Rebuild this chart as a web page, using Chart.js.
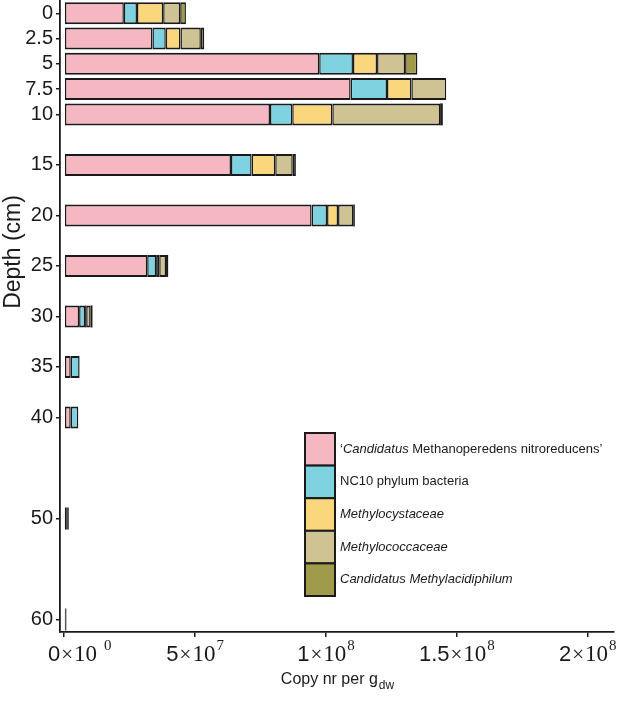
<!DOCTYPE html>
<html>
<head>
<meta charset="utf-8">
<script src="https://cdn.jsdelivr.net/npm/chart.js@4.4.1/dist/chart.umd.min.js"></script>
<style>
  html, body { margin:0; padding:0; background:#fff; }
  #wrap { width:630px; height:701px; }
</style>
</head>
<body>
<div id="wrap"><canvas id="chart" width="630" height="701"></canvas></div>
<script>
// sample depth (cm)
const depths = [0, 2.5, 5, 7.5, 10, 15, 20, 25, 30, 35, 40, 50, 60];

// copy nr per g dry weight, in millions
const methanoperedens = [22.8, 33.7, 97.4, 109.4, 78.6, 63.7, 94.5, 31.7, 5.7, 2.5, 2.5, 0.9, 0.4];
const nc10            = [5.0, 5.1, 12.9, 13.9, 8.5, 7.9, 5.9, 3.4, 2.3, 3.4, 2.9, 0.4, 0.2];
const methylocyst     = [10.0, 5.6, 9.2, 9.3, 15.3, 9.0, 4.2, 1.2, 0.4, 0, 0, 0.2, 0.1];
const methylococc     = [6.5, 7.8, 10.7, 13.3, 41.2, 6.7, 5.8, 2.6, 1.7, 0, 0, 0.2, 0.1];
const methylacidi     = [2.2, 1.3, 4.7, 0, 1.0, 1.2, 0.6, 0.8, 0.7, 0, 0, 0.1, 0];

// legend text, split into [text, italic] pieces
const legendParts = [
  [['\u2018', false], ['Candidatus', true], [' Methanoperedens nitroreducens\u2019', false]],
  [['NC10 phylum bacteria', false]],
  [['Methylocystaceae', true]],
  [['Methylococcaceae', true]],
  [['Candidatus Methylacidiphilum', true]]
];
const seriesColors = ['#f5b7c1', '#7fd3e0', '#fad77c', '#cfc393', '#a09b4b'];

const depthTicks = [0, 2.5, 5, 7.5, 10, 15, 20, 25, 30, 35, 40, 50, 60];
const xTickValues = [0, 5e7, 1e8, 1.5e8, 2e8];
const xTickMantissa = ['0', '5', '1', '1.5', '2'];
const xTickExponent = ['0', '7', '8', '8', '8'];

const INK = '#1a1a1a';
const SANS = '"Liberation Sans", Arial, sans-serif';
const SERIF = '"Liberation Serif", "Times New Roman", serif';

const allSeries = [methanoperedens, nc10, methylocyst, methylococc, methylacidi];

// slivers thinner than the outline are drawn as plain outline colour
const isSliver = (c) => c.raw && c.raw.x > 0 && c.raw.x < 1.2e6;

const datasets = allSeries.map((vals, i) => ({
  label: legendParts[i].map(p => p[0]).join(''),
  data: vals.map((v, j) => ({ x: v * 1e6, y: depths[j] })),
  backgroundColor: (c) => (isSliver(c) ? INK : seriesColors[i]),
  borderColor: INK,
  borderWidth: (c) => (isSliver(c) ? 0 : { top: 2, bottom: 2, left: 1.5, right: 1.5 }),
  borderSkipped: false,
  inflateAmount: 0,
  barThickness: 22
}));

// x tick labels like 5×10^7 with a raised exponent
const xLabels = {
  id: 'xLabels',
  afterDraw(chart) {
    const ctx = chart.ctx;
    const sx = chart.scales.x;
    const base = chart.chartArea.bottom + 29;
    ctx.save();
    ctx.fillStyle = INK;
    ctx.textBaseline = 'alphabetic';
    xTickValues.forEach((v, i) => {
      const parts = [
        { t: xTickMantissa[i], f: '22px ' + SANS, dy: 0, gap: 1 },
        { t: '\u00d7', f: '21px ' + SERIF, dy: 0, gap: 1 },
        { t: '10', f: '23px ' + SERIF, dy: 0, gap: xTickExponent[i] === '0' ? 7 : 1 },
        { t: xTickExponent[i], f: '15px ' + SERIF, dy: -11, gap: 0 }
      ];
      let w = 0;
      parts.forEach(p => { ctx.font = p.f; p.w = ctx.measureText(p.t).width; w += p.w + p.gap; });
      let x = Math.max(sx.getPixelForValue(v) - w / 2, 48);
      parts.forEach(p => {
        ctx.font = p.f;
        ctx.fillText(p.t, x, base + p.dy);
        x += p.w + p.gap;
      });
    });
    ctx.restore();
  }
};

// axis titles (subscript on the x title)
const axisTitles = {
  id: 'axisTitles',
  afterDraw(chart) {
    const ctx = chart.ctx;
    const area = chart.chartArea;
    ctx.save();
    ctx.fillStyle = INK;
    ctx.textBaseline = 'alphabetic';
    ctx.font = '16px ' + SANS;
    const main = 'Copy nr per g';
    const mw = ctx.measureText(main).width;
    ctx.font = '12px ' + SANS;
    const sub = 'dw';
    const sw = ctx.measureText(sub).width;
    let x = (area.left + area.right) / 2 - (mw + sw) / 2;
    ctx.font = '16px ' + SANS;
    ctx.fillText(main, x, 684);
    ctx.font = '12px ' + SANS;
    ctx.fillText(sub, x + mw + 1, 689);

    ctx.translate(20, 252);
    ctx.rotate(-Math.PI / 2);
    ctx.textAlign = 'center';
    ctx.font = '23px ' + SANS;
    ctx.fillText('Depth (cm)', 0, 0);
    ctx.restore();
  }
};

// boxed legend inside the plot
const boxLegend = {
  id: 'boxLegend',
  afterDraw(chart) {
    const ctx = chart.ctx;
    const x0 = 305, y0 = 433, w = 30, h = 32.6;
    ctx.save();
    legendParts.forEach((parts, i) => {
      const y = y0 + i * h;
      ctx.fillStyle = seriesColors[i];
      ctx.fillRect(x0, y, w, h);
      ctx.strokeStyle = INK;
      ctx.lineWidth = 2;
      ctx.strokeRect(x0, y, w, h);
      let tx = x0 + w + 5;
      ctx.textBaseline = 'middle';
      ctx.fillStyle = INK;
      parts.forEach(([txt, it]) => {
        ctx.font = (it ? 'italic ' : '') + '13px ' + SANS;
        ctx.fillText(txt, tx, y + h / 2);
        tx += ctx.measureText(txt).width;
      });
    });
    ctx.restore();
  }
};

new Chart(document.getElementById('chart'), {
  type: 'bar',
  data: { datasets },
  options: {
    indexAxis: 'y',
    responsive: false,
    animation: false,
    devicePixelRatio: 1,
    layout: { padding: { top: 0, right: 16, left: 0, bottom: 0 } },
    plugins: { legend: { display: false }, tooltip: { enabled: false } },
    scales: {
      x: {
        type: 'linear',
        stacked: true,
        min: -1.6e6,
        max: 2.1e8,
        offset: false,
        afterBuildTicks: (s) => { s.ticks = xTickValues.map(v => ({ value: v })); },
        afterFit: (s) => { s.height = 69; s.paddingLeft = 0; s.paddingRight = 0; },
        ticks: { display: false },
        grid: { offset: false, drawOnChartArea: false, drawTicks: true, tickLength: 5, color: INK, lineWidth: 1.5 },
        border: { display: true, color: INK, width: 1.8 }
      },
      y: {
        type: 'linear',
        stacked: true,
        reverse: true,
        min: -1.32,
        max: 61.23,
        offset: false,
        afterBuildTicks: (s) => { s.ticks = depthTicks.map(v => ({ value: v })); },
        afterFit: (s) => { s.width = 60; s.paddingTop = 0; s.paddingBottom = 0; },
        ticks: {
          color: INK,
          padding: 3,
          font: { family: SANS, size: 20 },
          callback: (v) => String(v)
        },
        grid: { offset: false, drawOnChartArea: false, drawTicks: true, tickLength: 4, color: INK, lineWidth: 1.5 },
        border: { display: true, color: INK, width: 1.8 }
      }
    }
  },
  plugins: [xLabels, axisTitles, boxLegend]
});
</script>
</body>
</html>
